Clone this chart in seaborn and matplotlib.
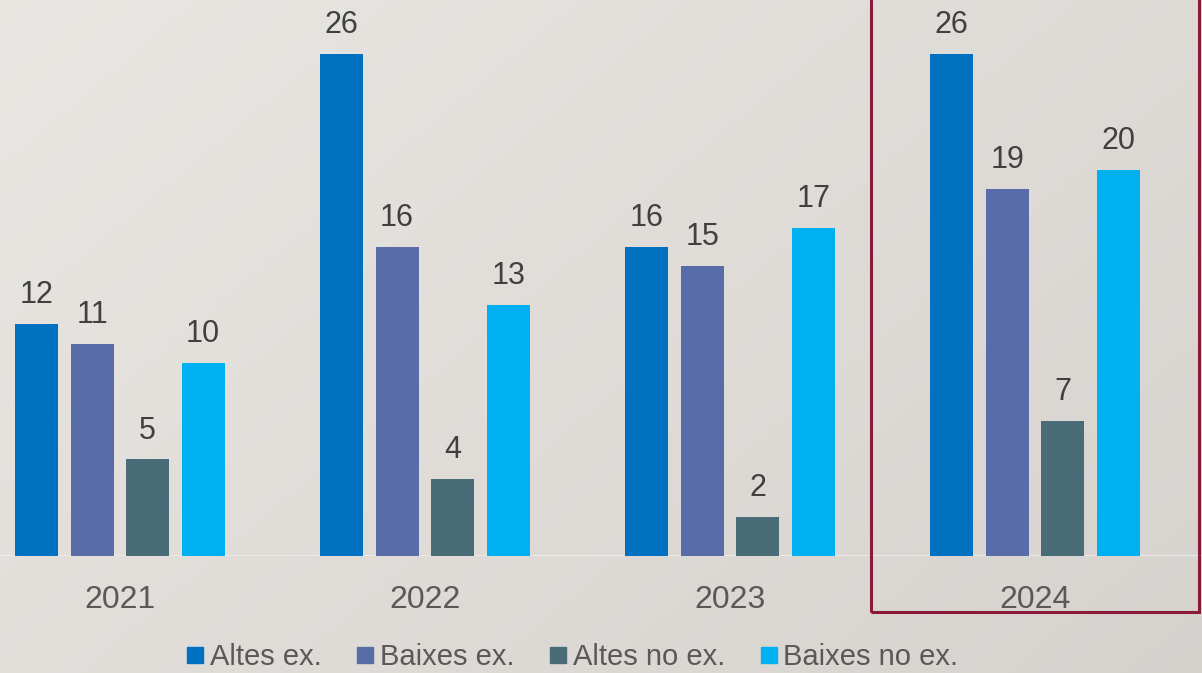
import numpy as np
import pandas as pd
import matplotlib
matplotlib.use("Agg")
import matplotlib.pyplot as plt
from matplotlib.lines import Line2D
from matplotlib.patches import Rectangle
import seaborn as sns

# dades
anys = ["2021", "2022", "2023", "2024"]
series = ["Altes ex.", "Baixes ex.", "Altes no ex.", "Baixes no ex."]
altes_ex = [12, 26, 16, 26]
baixes_ex = [11, 16, 15, 19]
altes_no_ex = [5, 4, 2, 7]
baixes_no_ex = [10, 13, 17, 20]
colors = ["#0070C0", "#586DA8", "#4A6B78", "#00B0F0"]

df = pd.DataFrame({
    "any": anys * 4,
    "serie": [s for s in series for _ in anys],
    "valor": altes_ex + baixes_ex + altes_no_ex + baixes_no_ex,
})

sns.set_style("white")
plt.rcParams['font.family'] = ['Liberation Sans Narrow', 'Liberation Sans', 'DejaVu Sans']

W, H = 1202, 673
fig = plt.figure(figsize=(W / 100, H / 100), dpi=100)

# fons amb degradat suau
bg = fig.add_axes([0, 0, 1, 1], zorder=-10)
gx = np.linspace(0, 1, 200)
gy = np.linspace(0, 1, 200)
GX, GY = np.meshgrid(gx, gy)
grad = 0.6 * GX + 0.4 * GY
c0 = np.array([0.915, 0.905, 0.89])
c1 = np.array([0.84, 0.825, 0.81])
img = c0[None, None, :] * (1 - grad[..., None]) + c1[None, None, :] * grad[..., None]
bg.imshow(img, aspect="auto", extent=[0, 1, 0, 1], origin="upper")
bg.axis("off")

base = 556
ax = fig.add_axes([0, (H - base) / H, 1, base / H])
ax.patch.set_alpha(0)

sns.barplot(data=df, x="any", y="valor", hue="serie", palette=colors,
            width=0.728, gap=0.225, ax=ax, legend=False, saturation=1,
            linewidth=0, edgecolor="none")

for cont in ax.containers:
    ax.bar_label(cont, padding=10, fontsize=22, color="#404040")

ax.set_xlim(-0.393, 3.548)
ax.set_ylim(0, base / 19.31)
ax.set_xlabel("")
ax.set_ylabel("")
ax.set_yticks([])
ax.tick_params(axis="x", length=0, pad=21, labelsize=23, labelcolor="#595959")
for s in ax.spines.values():
    s.set_visible(False)
ax.axhline(0, color="#ECEAE6", lw=1.5, zorder=0)

# requadre 2024
fig.patches.append(Rectangle((871 / W, (H - 612) / H), (1199 - 871) / W, 612 / H + 0.05,
                             transform=fig.transFigure, fill=False,
                             edgecolor="#8B1A3A", lw=2.2, zorder=5))

handles = [Line2D([], [], marker="s", linestyle="none", markersize=11,
                  markerfacecolor=c, markeredgecolor=c) for c in colors]
fig.legend(handles, series, loc="center", bbox_to_anchor=(571 / W, (H - 657) / H),
           ncol=4, frameon=False, fontsize=21, labelcolor="#595959",
           handletextpad=0.1, columnspacing=1.1, handlelength=0.8)

fig.savefig("out.png", dpi=100)
